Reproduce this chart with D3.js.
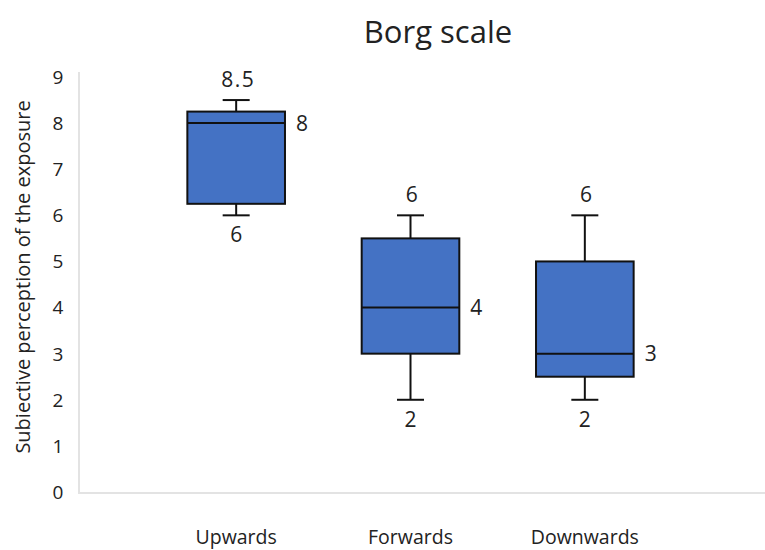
<!DOCTYPE html>
<html>
<head>
<meta charset="utf-8">
<script src="https://cdn.jsdelivr.net/npm/d3@7"></script>
<style>
  body { margin: 0; background: #fff; }
  text { font-family: "Open Sans", "Noto Sans", sans-serif; fill: #222; }
</style>
</head>
<body>
<div id="general"></div>
<script>
const w = 765, h = 550;

// data
const categories = ["Upwards", "Forwards", "Downwards"];
const mins = [6, 2, 2];
const q1s = [6.25, 3, 2.5];
const medians = [8, 4, 3];
const q3s = [8.25, 5.5, 5];
const maxs = [8.5, 6, 6];
const maxLabels = ["8.5", "6", "6"];
const yTicks = [0, 1, 2, 3, 4, 5, 6, 7, 8, 9];

const boxes = categories.map((c, i) => ({
  cat: c, min: mins[i], q1: q1s[i], med: medians[i], q3: q3s[i], max: maxs[i], maxLabel: maxLabels[i]
}));

const svg = d3.select("#general").append("svg").attr("width", w).attr("height", h);

const x = d3.scaleBand().domain(categories).range([149, 672]).paddingInner(0.44).paddingOuter(0.22);
const y = d3.scaleLinear().domain([0, 9]).range([492, 77]);

// axis lines
svg.append("line").attr("x1", 79).attr("x2", 79).attr("y1", 72).attr("y2", 493)
  .attr("stroke", "#e3e3e3").attr("stroke-width", 2);
svg.append("line").attr("x1", 78).attr("x2", 765).attr("y1", 493).attr("y2", 493)
  .attr("stroke", "#e3e3e3").attr("stroke-width", 2);

// y tick labels
svg.append("g").selectAll("text")
  .data(yTicks)
  .join("text")
  .attr("x", 58).attr("y", d => y(d))
  .attr("text-anchor", "middle").attr("dy", "0.36em")
  .attr("font-size", 19)
  .text(d => d);

// category labels
svg.append("g").selectAll("text")
  .data(categories)
  .join("text")
  .attr("x", d => x(d) + x.bandwidth() / 2).attr("y", 544)
  .attr("text-anchor", "middle")
  .attr("font-size", 19.5)
  .text(d => d);

const cap = 27;
const g = svg.append("g").selectAll("g").data(boxes).join("g");

// whiskers
g.append("line")
  .attr("x1", d => x(d.cat) + x.bandwidth() / 2).attr("x2", d => x(d.cat) + x.bandwidth() / 2)
  .attr("y1", d => y(d.max)).attr("y2", d => y(d.q3))
  .attr("stroke", "#111").attr("stroke-width", 2);
g.append("line")
  .attr("x1", d => x(d.cat) + x.bandwidth() / 2).attr("x2", d => x(d.cat) + x.bandwidth() / 2)
  .attr("y1", d => y(d.q1)).attr("y2", d => y(d.min))
  .attr("stroke", "#111").attr("stroke-width", 2);
g.append("line")
  .attr("x1", d => x(d.cat) + x.bandwidth() / 2 - cap / 2).attr("x2", d => x(d.cat) + x.bandwidth() / 2 + cap / 2)
  .attr("y1", d => y(d.max)).attr("y2", d => y(d.max))
  .attr("stroke", "#111").attr("stroke-width", 2);
g.append("line")
  .attr("x1", d => x(d.cat) + x.bandwidth() / 2 - cap / 2).attr("x2", d => x(d.cat) + x.bandwidth() / 2 + cap / 2)
  .attr("y1", d => y(d.min)).attr("y2", d => y(d.min))
  .attr("stroke", "#111").attr("stroke-width", 2);

// box
g.append("rect")
  .attr("x", d => x(d.cat)).attr("width", x.bandwidth())
  .attr("y", d => y(d.q3)).attr("height", d => y(d.q1) - y(d.q3))
  .attr("fill", "#4472c4").attr("stroke", "#111").attr("stroke-width", 2);
g.append("line")
  .attr("x1", d => x(d.cat)).attr("x2", d => x(d.cat) + x.bandwidth())
  .attr("y1", d => y(d.med)).attr("y2", d => y(d.med))
  .attr("stroke", "#111").attr("stroke-width", 2);

// value labels
g.append("text")
  .attr("x", d => x(d.cat) + x.bandwidth() / 2 + 2).attr("y", d => y(d.max) - 13)
  .attr("text-anchor", "middle").attr("font-size", 21).attr("letter-spacing", 1.5)
  .text(d => d.maxLabel);
g.append("text")
  .attr("x", d => x(d.cat) + x.bandwidth() / 2).attr("y", d => y(d.min) + 27)
  .attr("text-anchor", "middle").attr("font-size", 21)
  .text(d => d.min);
g.append("text")
  .attr("x", d => x(d.cat) + x.bandwidth() + 17).attr("y", d => y(d.med))
  .attr("dy", "0.36em").attr("text-anchor", "middle").attr("font-size", 21)
  .text(d => d.med);

// title
svg.append("text").attr("x", 438).attr("y", 43)
  .attr("text-anchor", "middle").attr("font-size", 31)
  .text("Borg scale");

// y axis title
svg.append("text")
  .attr("transform", `translate(30,${277}) rotate(-90)`)
  .attr("text-anchor", "middle").attr("font-size", 20)
  .text("Subiective perception of the exposure");
</script>
</body>
</html>
